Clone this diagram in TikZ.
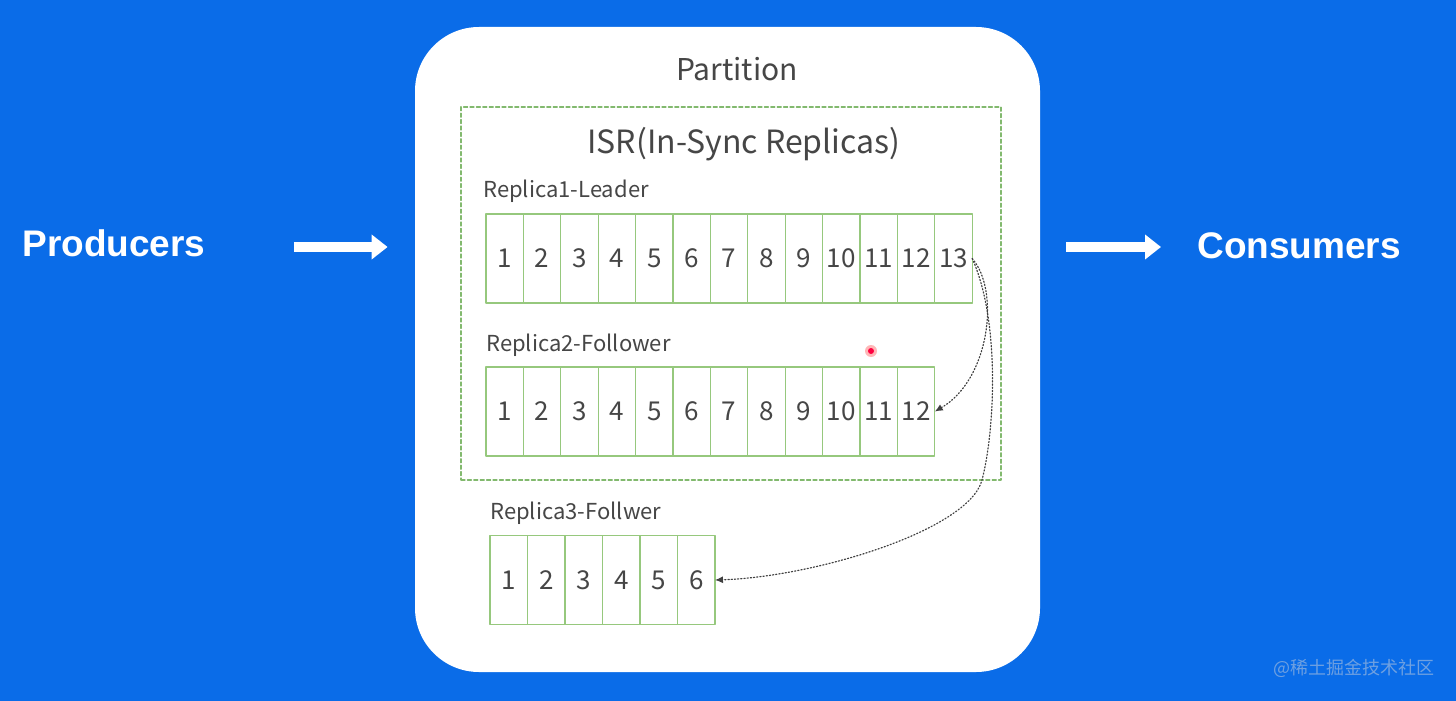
\documentclass[tikz,border=0pt]{standalone}
\usepackage{fontspec}
\setmainfont{Liberation Sans}
\newfontfamily\cjk{Noto Sans CJK SC}
\usetikzlibrary{arrows.meta}

\definecolor{bgblue}{RGB}{10,108,232}
\definecolor{cellgreen}{RGB}{150,200,125}
\definecolor{isrgreen}{RGB}{130,185,110}
\definecolor{txtgray}{RGB}{70,70,70}
\definecolor{markblue}{RGB}{110,160,225}

\begin{document}
\begin{tikzpicture}[
  x=0.5pt, y=-0.5pt,
  every path/.style={line cap=round, line join=round},
  cell/.style={draw=cellgreen, line width=0.6pt, minimum width=18.7pt,
    minimum height=44.5pt, inner sep=0pt, outer sep=0pt,
    font=\cjk\fontsize{13}{13}\selectfont, text=txtgray},
  lbl/.style={anchor=west, inner sep=0pt, font=\cjk\fontsize{11}{11}\selectfont, text=txtgray},
  sidelbl/.style={inner sep=0pt, text=white, font=\bfseries\fontsize{18.5}{18.5}\selectfont},
  bigarrow/.style={white, line width=5pt, line cap=butt, -{Triangle[width=12pt,length=8pt]}},
  synclink/.style={densely dotted, black!75, line width=0.6pt, -{Latex[length=4pt,width=3.5pt]}}
]

% ---------------- Background ----------------
\fill[bgblue] (0,0) rectangle (1456,701);
\useasboundingbox (0,0) rectangle (1456,701);

% ---------------- Partition ----------------
\node[fill=white, rounded corners=32pt, minimum width=312.5pt, minimum height=322.5pt,
  inner sep=0pt] (part) at (727.5,349.5) {};
\node[font=\cjk\fontsize{15}{15}\selectfont, text=txtgray, inner sep=0pt] (ptitle) at (737,69) {Partition};

% ISR frame (dashed)
\node[draw=isrgreen, dash pattern=on 2pt off 1.2pt, line width=0.6pt, minimum width=270pt,
  minimum height=186.5pt, inner sep=0pt] (isr) at (731,293.5) {};
\node[font=\cjk\fontsize{16}{16}\selectfont, text=txtgray, inner sep=0pt] (isrtitle) at (744,144) {ISR(In-Sync Replicas)};

% ---------------- Replicas ----------------
\node[lbl] (lead) at (483,191) {Replica1-Leader};
\foreach \i in {1,...,13} {
  \node[cell] (a\i) at ({486+37.4*(\i-0.5)},258.5) {\i};
}

\node[lbl] (foll) at (486,345) {Replica2-Follower};
\foreach \i in {1,...,12} {
  \node[cell] (b\i) at ({486+37.4*(\i-0.5)},411.5) {\i};
}

\node[lbl] (foll3) at (490,513) {Replica3-Follwer};
\foreach \i in {1,...,6} {
  \node[cell] (c\i) at ({490+37.5*(\i-0.5)},580) {\i};
}

% sync from leader to followers
\draw[synclink] (a13.east) .. controls +(28,32) and +(55,-32) .. (b12.east);
\draw[synclink] (a13.east) .. controls +(28,62) and +(13,-50) .. (982,480)
  .. controls +(-13,50) and +(100,-3) .. (c6.east);

% pointer mark
\fill[red!40!white, opacity=0.7] (871,351) circle (3pt);
\fill[red!75!magenta] (871,351) circle (1.5pt);

% ---------------- Producers / Consumers ----------------
\node[sidelbl, anchor=west] (prod) at (22,243) {Producers};
\node[sidelbl, anchor=west] (cons) at (1197,246) {Consumers};

\draw[bigarrow, shorten <=44pt, shorten >=13.5pt]
  ([yshift=-2pt]prod.east) -- ([yshift=-2pt]prod.east -| part.west);
\draw[bigarrow, shorten <=13pt, shorten >=18pt]
  ([yshift=-0.5pt]cons.west -| part.east) -- ([yshift=-0.5pt]cons.west);

% watermark
\node[anchor=west, inner sep=0pt, text=markblue, font=\cjk\fontsize{9}{9}\selectfont]
  (mark) at (1273,668) {@稀土掘金技术社区};

\end{tikzpicture}
\end{document}
